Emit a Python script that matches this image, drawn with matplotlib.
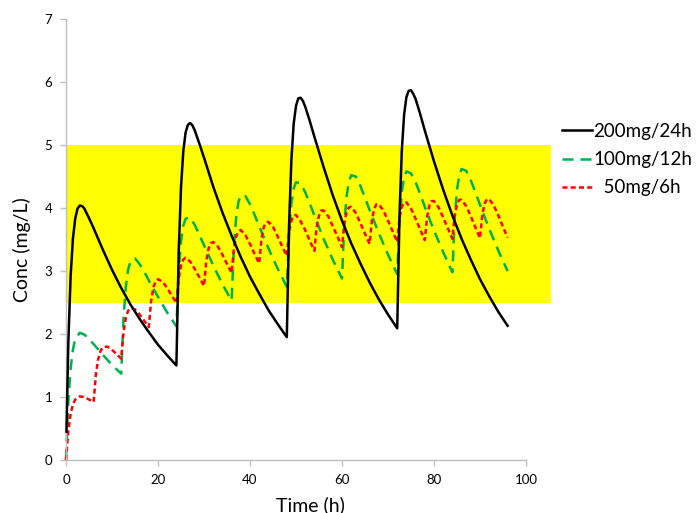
import matplotlib
matplotlib.use("Agg")
import matplotlib.pyplot as plt
from matplotlib.patches import Rectangle

plt.rcParams['font.family'] = ['Lato', 'DejaVu Sans']

# ---- data ----
black_time = [0.1, 0.5, 1, 1.5, 2, 2.5, 3, 3.5, 4, 5, 6, 8, 10, 12, 14, 16, 18, 20, 22,
              24, 24.5, 25, 25.5, 26, 26.5, 27, 27.5, 28, 29, 30, 32, 34, 36, 38, 40, 42, 44, 46,
              48, 48.5, 49, 49.5, 50, 50.5, 51, 51.5, 52, 53, 54, 56, 58, 60, 62, 64, 66, 68, 70,
              72, 72.5, 73, 73.5, 74, 74.5, 75, 75.5, 76, 77, 78, 80, 82, 84, 86, 88, 90, 92, 94,
              96]
black_conc = [0.45, 1.84, 2.91, 3.51, 3.83, 3.99, 4.04, 4.03, 3.99, 3.84, 3.68, 3.34, 3.02, 2.73, 2.47, 2.24, 2.03, 1.83, 1.66,
              1.50, 3.30, 4.33, 4.90, 5.20, 5.32, 5.35, 5.31, 5.23, 5.02, 4.80, 4.34, 3.93, 3.56, 3.22, 2.91, 2.64, 2.38, 2.16,
              1.95, 3.75, 4.77, 5.34, 5.62, 5.74, 5.75, 5.70, 5.61, 5.38, 5.13, 4.65, 4.20, 3.80, 3.44, 3.12, 2.82, 2.55, 2.31,
              2.09, 3.88, 4.91, 5.48, 5.76, 5.86, 5.87, 5.81, 5.73, 5.49, 5.23, 4.74, 4.29, 3.88, 3.51, 3.18, 2.87, 2.60, 2.35,
              2.13]

green_time = [0, 0.5, 1, 1.5, 2, 3, 4, 5, 6, 8, 10,
              12, 12.5, 13, 13.5, 14, 15, 16, 17, 18, 20, 22,
              24, 24.5, 25, 25.5, 26, 27, 28, 29, 30, 32, 34,
              36, 36.5, 37, 37.5, 38, 39, 40, 41, 42, 44, 46,
              48, 48.5, 49, 49.5, 50, 51, 52, 53, 54, 56, 58,
              60, 60.5, 61, 61.5, 62, 63, 64, 65, 66, 68, 70,
              72, 72.5, 73, 73.5, 74, 75, 76, 77, 78, 80, 82,
              84, 84.5, 85, 85.5, 86, 87, 88, 89, 90, 92, 94,
              96]
green_conc = [0, 0.92, 1.45, 1.75, 1.92, 2.02, 1.99, 1.92, 1.84, 1.67, 1.51,
              1.37, 2.25, 2.75, 3.02, 3.15, 3.20, 3.11, 2.99, 2.85, 2.59, 2.34,
              2.12, 2.98, 3.47, 3.72, 3.83, 3.85, 3.73, 3.57, 3.41, 3.09, 2.79,
              2.53, 3.38, 3.86, 4.10, 4.20, 4.19, 4.06, 3.89, 3.71, 3.36, 3.04,
              2.75, 3.60, 4.07, 4.31, 4.41, 4.39, 4.25, 4.07, 3.88, 3.51, 3.18,
              2.88, 3.73, 4.19, 4.42, 4.52, 4.50, 4.35, 4.16, 3.97, 3.60, 3.26,
              2.95, 3.79, 4.25, 4.49, 4.58, 4.55, 4.41, 4.22, 4.02, 3.64, 3.30,
              2.98, 3.83, 4.29, 4.52, 4.62, 4.59, 4.44, 4.25, 4.05, 3.67, 3.32,
              3.00]

red_time = [0, 0.5, 1, 1.5, 2, 3, 4, 5,
            6, 6.5, 7, 7.5, 8, 9, 10, 11,
            12, 12.5, 13, 13.5, 14, 15, 16, 17,
            18, 18.5, 19, 19.5, 20, 21, 22, 23,
            24, 24.5, 25, 25.5, 26, 27, 28, 29,
            30, 30.5, 31, 31.5, 32, 33, 34, 35,
            36, 36.5, 37, 37.5, 38, 39, 40, 41,
            42, 42.5, 43, 43.5, 44, 45, 46, 47,
            48, 48.5, 49, 49.5, 50, 51, 52, 53,
            54, 54.5, 55, 55.5, 56, 57, 58, 59,
            60, 60.5, 61, 61.5, 62, 63, 64, 65,
            66, 66.5, 67, 67.5, 68, 69, 70, 71,
            72, 72.5, 73, 73.5, 74, 75, 76, 77,
            78, 78.5, 79, 79.5, 80, 81, 82, 83,
            84, 84.5, 85, 85.5, 86, 87, 88, 89,
            90, 90.5, 91, 91.5, 92, 93, 94, 95,
            96]
red_conc = [0, 0.46, 0.73, 0.88, 0.96, 1.01, 1.00, 0.96,
            0.92, 1.36, 1.60, 1.73, 1.79, 1.80, 1.75, 1.68,
            1.61, 2.03, 2.25, 2.37, 2.41, 2.39, 2.31, 2.21,
            2.11, 2.52, 2.74, 2.84, 2.87, 2.83, 2.73, 2.61,
            2.49, 2.88, 3.09, 3.18, 3.21, 3.15, 3.03, 2.90,
            2.76, 3.16, 3.36, 3.44, 3.46, 3.39, 3.26, 3.11,
            2.97, 3.36, 3.55, 3.63, 3.65, 3.57, 3.43, 3.27,
            3.12, 3.51, 3.70, 3.77, 3.78, 3.70, 3.55, 3.39,
            3.24, 3.62, 3.80, 3.88, 3.89, 3.79, 3.65, 3.48,
            3.32, 3.70, 3.88, 3.96, 3.96, 3.87, 3.71, 3.55,
            3.38, 3.76, 3.94, 4.01, 4.02, 3.92, 3.76, 3.59,
            3.43, 3.80, 3.99, 4.06, 4.06, 3.96, 3.80, 3.63,
            3.46, 3.84, 4.02, 4.09, 4.09, 3.99, 3.83, 3.66,
            3.49, 3.86, 4.04, 4.11, 4.11, 4.01, 3.85, 3.68,
            3.51, 3.88, 4.06, 4.13, 4.13, 4.03, 3.87, 3.69,
            3.52, 3.89, 4.07, 4.14, 4.14, 4.04, 3.88, 3.70,
            3.53]

series_labels = ["200mg/24h", "100mg/12h", "  50mg/6h"]
target_low, target_high = 2.5, 5.0
band_end = 105.4
x_ticks = [0, 20, 40, 60, 80, 100]
y_ticks = [0, 1, 2, 3, 4, 5, 6, 7]

# ---- figure ----
W, H = 696, 513
fig = plt.figure(figsize=(W / 100, H / 100), dpi=100)
ax = fig.add_axes([66 / W, 1 - 460 / H, 460 / W, 441 / H])
ax.set_xlim(0, 100)
ax.set_ylim(0, 7)

ax.add_patch(Rectangle((0, target_low), band_end, target_high - target_low,
                       facecolor='#FFFF00', edgecolor='none', zorder=0, clip_on=False))

ax.plot(black_time, black_conc, color='black', lw=1.8, solid_joinstyle='round',
        label=series_labels[0], zorder=3, clip_on=False)
ax.plot(green_time, green_conc, color='#00B050', lw=1.8, linestyle=(0, (4.4, 2.8)),
        dash_joinstyle='round', label=series_labels[1], zorder=2, clip_on=False)
ax.plot(red_time, red_conc, color='#FF0000', lw=1.8, linestyle=(0, (2.0, 1.3)),
        dash_joinstyle='round', label=series_labels[2], zorder=2, clip_on=False)

for s in ['top', 'right']:
    ax.spines[s].set_visible(False)
for s in ['left', 'bottom']:
    ax.spines[s].set_color('#BFBFBF')
    ax.spines[s].set_linewidth(1.0)
ax.set_xticks(x_ticks)
ax.set_yticks(y_ticks)
ax.tick_params(axis='both', colors='#BFBFBF', labelcolor='black', length=4, width=1,
               labelsize=9.5, direction='out')
ax.tick_params(axis='x', pad=6)
ax.tick_params(axis='y', pad=6)

ax.set_xlabel('Time (h)', fontsize=14)
ax.xaxis.set_label_coords((310.5 - 66) / 460, -(505 - 460) / 441)
ax.xaxis.label.set_va('center')
ax.set_ylabel('Conc (mg/L)', fontsize=14)
ax.yaxis.set_label_coords((22 - 66) / 460, (460 - 250) / 441)
ax.yaxis.label.set_va('center')

leg = fig.legend(loc='upper left', bbox_to_anchor=(562 / W, 1 - 123 / H), frameon=False,
                 fontsize=13.5, handlelength=1.6, handletextpad=0.08, labelspacing=0.6,
                 borderaxespad=0, borderpad=0)

fig.savefig('out.png', dpi=100)
